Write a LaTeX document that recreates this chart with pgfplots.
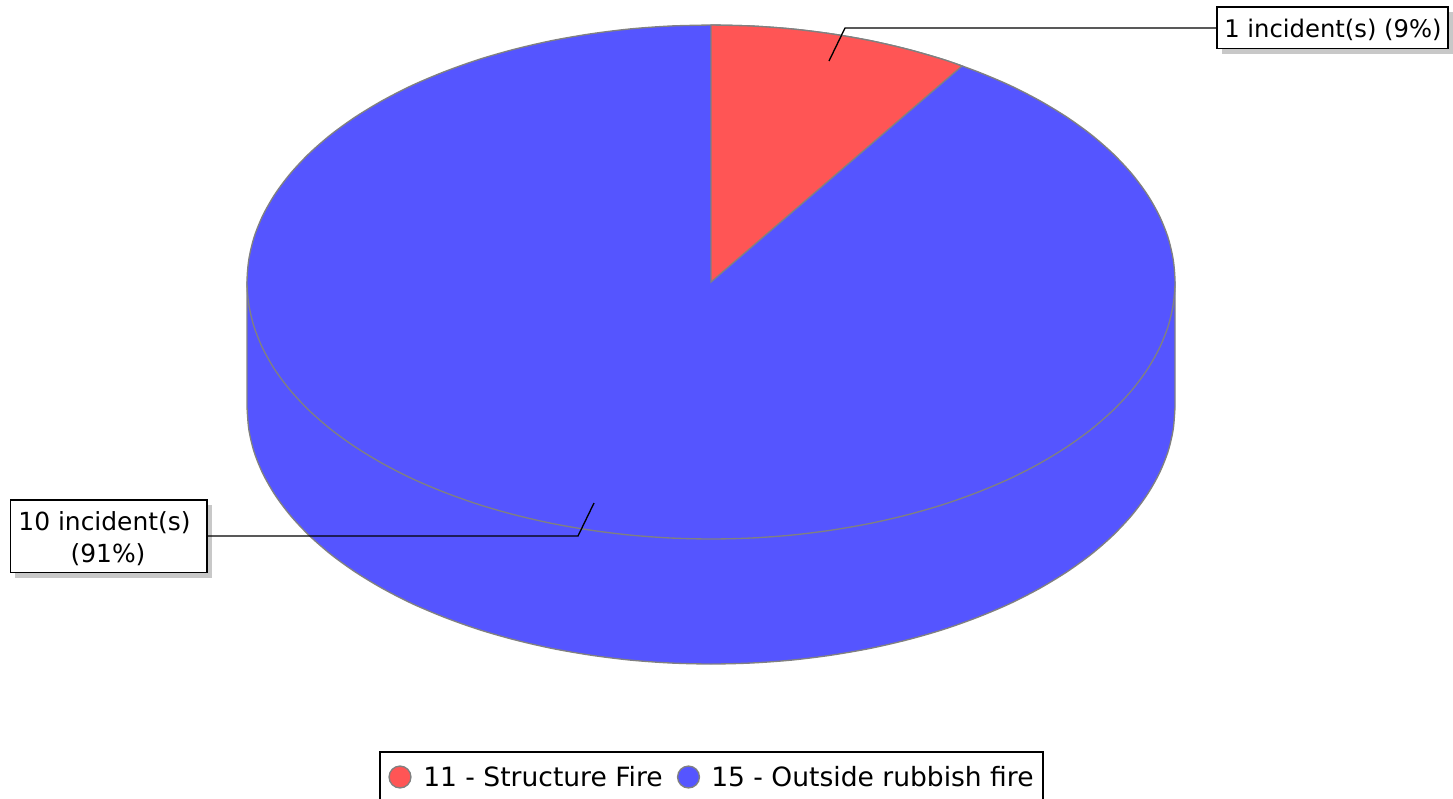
\documentclass[border=0pt]{standalone}
\usepackage{pgfplots}
\pgfplotsset{compat=1.18}
\usepackage{fontspec}
\setmainfont{DejaVu Sans}
\definecolor{pieblue}{HTML}{5555FF}
\definecolor{piered}{HTML}{FF5555}
\definecolor{pieedge}{HTML}{808080}
\definecolor{shadow}{HTML}{C8C8C8}
\newcommand{\lab}{\fontsize{18.2pt}{21pt}\selectfont}
\newcommand{\labb}{\fontsize{18.7pt}{21pt}\selectfont}
\newcommand{\leg}{\fontsize{19.9pt}{21pt}\selectfont}
\begin{document}
\begin{tikzpicture}
\path (0,0) rectangle (1089.75pt,599.25pt);
\begin{axis}[
  scale only axis, width=1089.75pt, height=599.25pt,
  xmin=0, xmax=1453, ymin=0, ymax=799, y dir=reverse,
  axis lines=none, enlargelimits=false, clip=true, clip mode=global,
]
% side wall of the disc (lower half of the rim, offset 125 px)
\addplot[smooth, fill=pieblue, draw=pieedge, line width=1pt] coordinates {
(1175,407)(1173.2,429.4)(1168,451.6)(1159.2,473.5)(1147,494.9)(1131.5,515.6)(1112.8,535.5)(1091.1,554.4)(1066.4,572.2)(1039.1,588.7)(1009.3,603.9)(977.1,617.5)(943,629.6)(907.1,639.9)(869.7,648.5)(831.1,655.2)(791.6,660.1)(751.4,663)(711,664)
(670.6,663)(630.4,660.1)(590.9,655.2)(552.3,648.5)(514.9,639.9)(479,629.6)(444.9,617.5)(412.7,603.9)(382.9,588.7)(355.6,572.2)(330.9,554.4)(309.2,535.5)(290.5,515.6)(275,494.9)(262.8,473.5)(254,451.6)(248.8,429.4)(247,407)
} -- (axis cs:247,282) -- (axis cs:1175,282) -- cycle;
% blue sector 91 % (whole top ellipse; the red sector lies over it)
\addplot[smooth, fill=pieblue, draw=pieedge, line width=1pt] coordinates {
(711,25)(751.4,26)(791.6,28.9)(831.1,33.8)(869.7,40.5)(907.1,49.1)(943,59.4)(977.1,71.5)(1009.3,85.1)(1039.1,100.3)(1066.4,116.8)(1091.1,134.6)(1112.8,153.5)(1131.5,173.4)(1147,194.1)(1159.2,215.5)(1168,237.4)(1173.2,259.6)(1175,282)
(1173.2,304.4)(1168,326.6)(1159.2,348.5)(1147,369.9)(1131.5,390.6)(1112.8,410.5)(1091.1,429.4)(1066.4,447.2)(1039.1,463.7)(1009.3,478.9)(977.1,492.5)(943,504.6)(907.1,514.9)(869.7,523.5)(831.1,530.2)(791.6,535.1)(751.4,538)(711,539)
(670.6,538)(630.4,535.1)(590.9,530.2)(552.3,523.5)(514.9,514.9)(479,504.6)(444.9,492.5)(412.7,478.9)(382.9,463.7)(355.6,447.2)(330.9,429.4)(309.2,410.5)(290.5,390.6)(275,369.9)(262.8,348.5)(254,326.6)(248.8,304.4)(247,282)
(248.8,259.6)(254,237.4)(262.8,215.5)(275,194.1)(290.5,173.4)(309.2,153.5)(330.9,134.6)(355.6,116.8)(382.9,100.3)(412.7,85.1)(444.9,71.5)(479,59.4)(514.9,49.1)(552.3,40.5)(590.9,33.8)(630.4,28.9)(670.6,26)(711,25)
} -- cycle;
% red sector 9 %
\addplot[smooth, fill=piered, draw=pieedge, line width=1pt] coordinates {
(711,25)(751.4,26)(791.6,28.9)(831.1,33.8)(869.7,40.5)(907.1,49.1)(943,59.4)(962,66)
} -- (axis cs:711,282) -- cycle;
% label shadows
\addplot[fill=shadow, draw=none] coordinates {(1222,12)(1453,12)(1453,54)(1222,54)} -- cycle;
\addplot[fill=shadow, draw=none] coordinates {(15,505)(212,505)(212,578)(15,578)} -- cycle;
% leader lines
\addplot[black, line width=1pt] coordinates {(829,61)(845,28)(1217,28)};
\addplot[black, line width=1pt] coordinates {(594,503)(578,536)(207,536)};
% label boxes
\addplot[fill=white, draw=black, line width=1pt] coordinates {(1217,7)(1448,7)(1448,48.5)(1217,48.5)} -- cycle;
\addplot[fill=white, draw=black, line width=1pt] coordinates {(10.5,500)(207,500)(207,572.5)(10.5,572.5)} -- cycle;
\node[anchor=base, inner sep=0pt] at (axis cs:1333,38) {\lab 1 incident(s) (9\%)};
\node[anchor=base, inner sep=0pt] at (axis cs:104.5,530) {\labb 10 incident(s)};
\node[anchor=base, inner sep=0pt] at (axis cs:108,562) {\labb (91\%)};
% legend frame
\addplot[fill=white, draw=black, line width=2.2pt] coordinates {(380,805)(380,752)(1043,752)(1043,805)};
\addplot[only marks, mark=*, mark size=8.2pt, mark options={fill=piered, draw=pieedge, line width=1pt}] coordinates {(400,777)};
\addplot[only marks, mark=*, mark size=8.2pt, mark options={fill=pieblue, draw=pieedge, line width=1pt}] coordinates {(688.5,777)};
\node[anchor=base west, inner sep=0pt] at (axis cs:423,786) {\leg 11 - Structure Fire};
\node[anchor=base west, inner sep=0pt] at (axis cs:711,786) {\leg 15 - Outside rubbish fire};
\end{axis}
\end{tikzpicture}
\end{document}
